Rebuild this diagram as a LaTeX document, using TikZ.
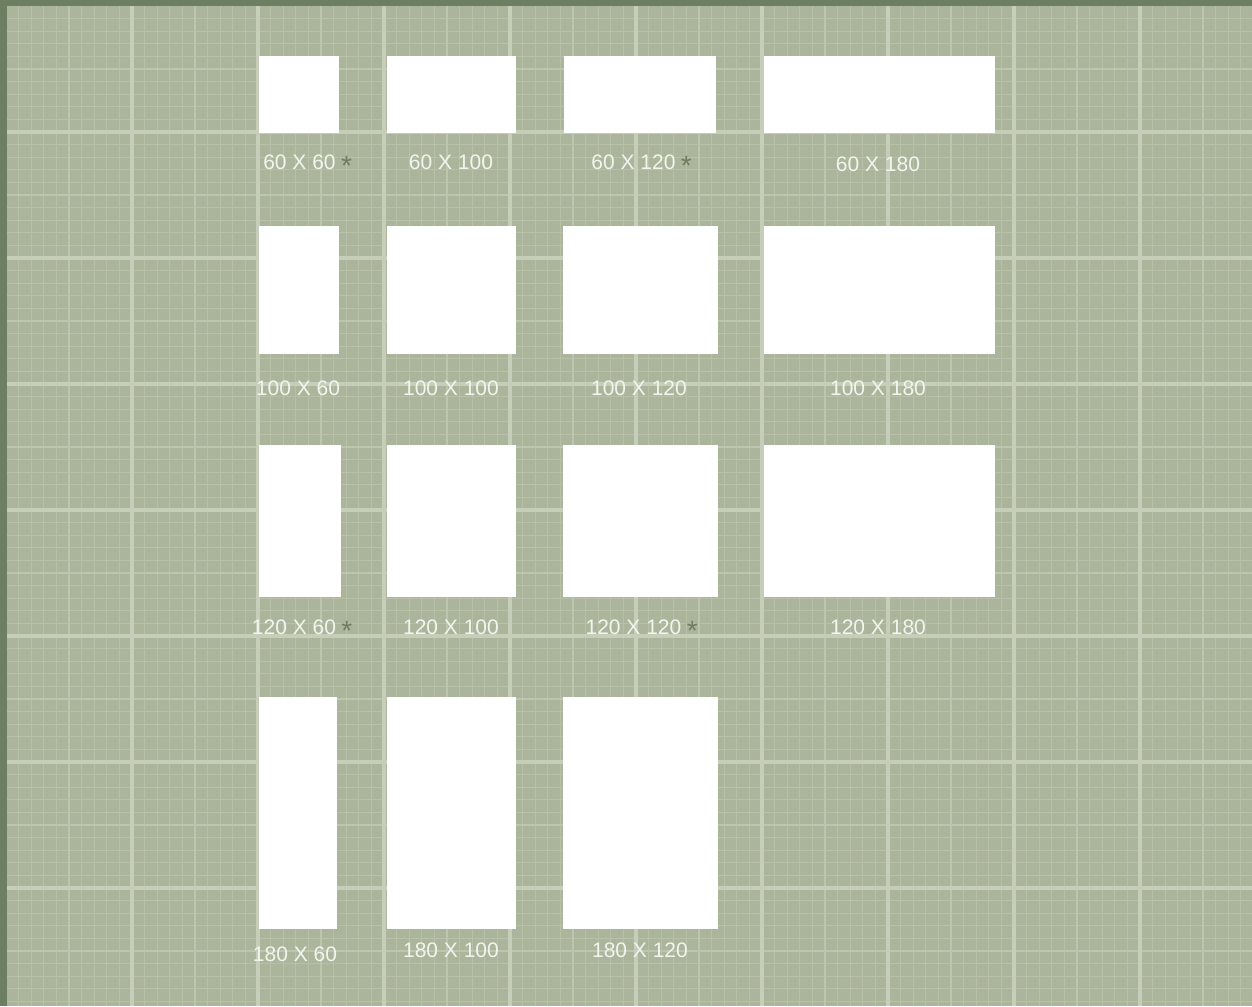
\documentclass[tikz,border=0pt]{standalone}
\usepackage{fontspec}
\setmainfont{Liberation Sans}
\usepackage{xcolor}
\usetikzlibrary{positioning}
\definecolor{frame}{HTML}{6E7E60}
\definecolor{paper}{HTML}{ABB59C}
\definecolor{fine}{HTML}{B8C1A8}
\definecolor{midline}{HTML}{BCC5AE}
\definecolor{boldline}{HTML}{C6CEBA}
\definecolor{labeltext}{HTML}{F2F4EE}
\definecolor{stargreen}{HTML}{6E7E60}

\begin{document}
\begin{tikzpicture}[
  x=1pt, y=-1pt,
  font=\fontsize{21}{25}\selectfont,
  sheet/.style={fill=white, inner sep=0pt, anchor=north west},
  size/.style={text=labeltext, inner sep=0pt},
  star/.style={text=stargreen, inner sep=0pt, font=\fontsize{28}{30}\selectfont}
]
\useasboundingbox (0,0) rectangle (1252,1006);
\fill[frame] (0,0) rectangle (1252,1006);
\fill[paper] (7,6) rectangle (1252,1006);

% grid paper
\begin{scope}
\clip (7,6) rectangle (1252,1006);
\foreach \k in {1,...,98}
  \draw[fine, line width=1pt] ({6+12.6*\k},6) -- ({6+12.6*\k},1006);
\foreach \k in {1,...,79}
  \draw[fine, line width=1pt] (7,{6+12.6*\k}) -- (1252,{6+12.6*\k});
\foreach \k in {5,15,...,95}
  \draw[midline, line width=1.5pt] ({6+12.6*\k},6) -- ({6+12.6*\k},1006);
\foreach \k in {5,15,...,75}
  \draw[midline, line width=1.5pt] (7,{6+12.6*\k}) -- (1252,{6+12.6*\k});
\foreach \k in {10,20,...,90}
  \draw[boldline, line width=3.5pt] ({6+12.6*\k},6) -- ({6+12.6*\k},1006);
\foreach \k in {10,20,...,70}
  \draw[boldline, line width=3.5pt] (7,{6+12.6*\k}) -- (1252,{6+12.6*\k});
\end{scope}

% row 60
\node[sheet, minimum width=80pt, minimum height=77pt] (b60x60) at (259,56) {};
\node[sheet, minimum width=129pt, minimum height=77pt] (b60x100) at (387,56) {};
\node[sheet, minimum width=152pt, minimum height=77pt] (b60x120) at (564,56) {};
\node[sheet, minimum width=231pt, minimum height=77pt] (b60x180) at (764,56) {};
\node[size] (l60x60) at (299.5,162) {60 X 60};
\node[star, base right=5pt of l60x60.base east, yshift=-6pt] (s60x60) {*};
\node[size] (l60x100) at (451,162) {60 X 100};
\node[size] (l60x120) at (633.5,162) {60 X 120};
\node[star, base right=5pt of l60x120.base east, yshift=-6pt] (s60x120) {*};
\node[size] (l60x180) at (878,164) {60 X 180};

% row 100
\node[sheet, minimum width=80pt, minimum height=128pt] (b100x60) at (259,226) {};
\node[sheet, minimum width=129pt, minimum height=128pt] (b100x100) at (387,226) {};
\node[sheet, minimum width=155pt, minimum height=128pt] (b100x120) at (563,226) {};
\node[sheet, minimum width=231pt, minimum height=128pt] (b100x180) at (764,226) {};
\node[size] (l100x60) at (298,388) {100 X 60};
\node[size] (l100x100) at (451,388) {100 X 100};
\node[size] (l100x120) at (639,388) {100 X 120};
\node[size] (l100x180) at (878,388) {100 X 180};

% row 120
\node[sheet, minimum width=82pt, minimum height=152pt] (b120x60) at (259,445) {};
\node[sheet, minimum width=129pt, minimum height=152pt] (b120x100) at (387,445) {};
\node[sheet, minimum width=155pt, minimum height=152pt] (b120x120) at (563,445) {};
\node[sheet, minimum width=231pt, minimum height=152pt] (b120x180) at (764,445) {};
\node[size] (l120x60) at (294,627) {120 X 60};
\node[star, base right=5pt of l120x60.base east, yshift=-6pt] (s120x60) {*};
\node[size] (l120x100) at (451,627) {120 X 100};
\node[size] (l120x120) at (633.5,627) {120 X 120};
\node[star, base right=5pt of l120x120.base east, yshift=-6pt] (s120x120) {*};
\node[size] (l120x180) at (878,627) {120 X 180};

% row 180
\node[sheet, minimum width=78pt, minimum height=232pt] (b180x60) at (259,697) {};
\node[sheet, minimum width=129pt, minimum height=232pt] (b180x100) at (387,697) {};
\node[sheet, minimum width=155pt, minimum height=232pt] (b180x120) at (563,697) {};
\node[size] (l180x60) at (295,954) {180 X 60};
\node[size] (l180x100) at (451,950) {180 X 100};
\node[size] (l180x120) at (640,950) {180 X 120};
\end{tikzpicture}
\end{document}
